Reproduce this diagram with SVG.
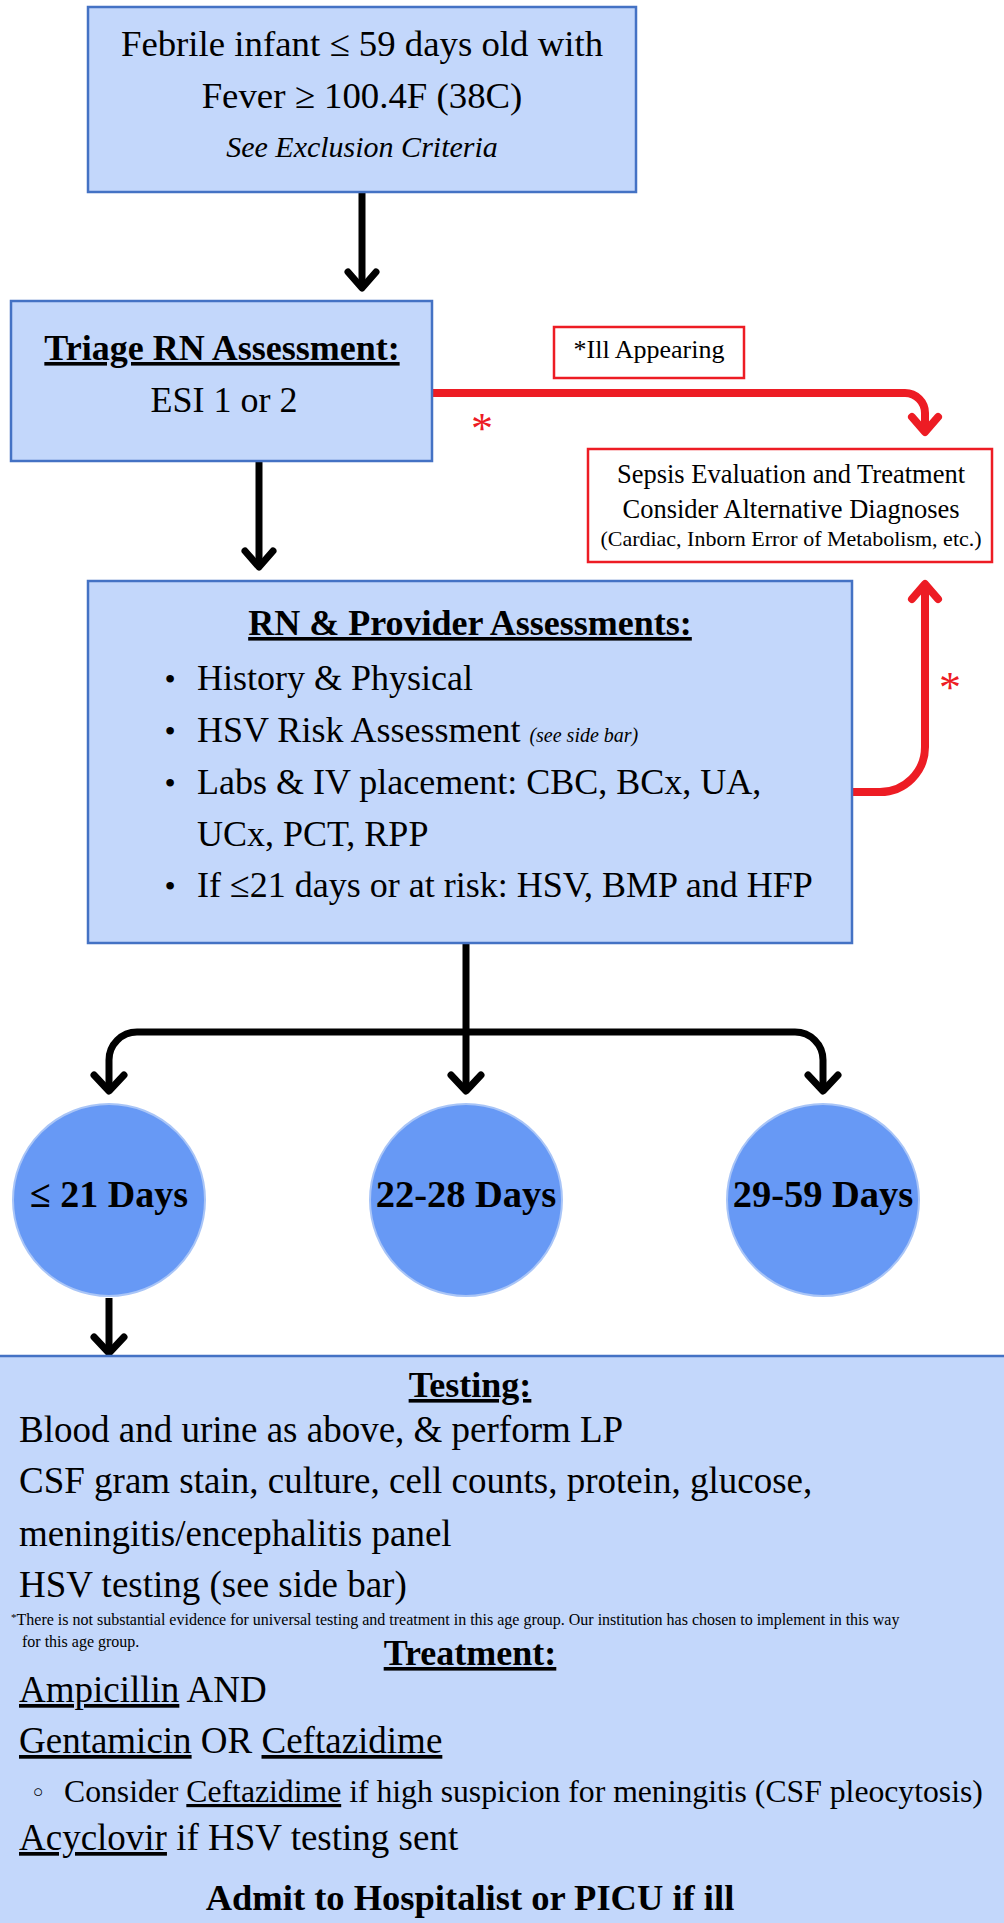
<svg xmlns="http://www.w3.org/2000/svg" width="1004" height="1923" viewBox="0 0 1004 1923">
<style>
.box{fill:#C3D7FB;stroke:#4472C4;stroke-width:2.5}
.rbox{fill:#FFFFFF;stroke:#ED1C24;stroke-width:2.5}
.circ{fill:#6799F5;stroke:#A9C5F7;stroke-width:2}
.t{font-family:"Liberation Serif","Times New Roman",serif;fill:#000}
.b{font-weight:bold}
.i{font-style:italic}
.u{text-decoration:underline}
.c{text-anchor:middle}
.blk{fill:none;stroke:#000;stroke-width:7}
.red{fill:none;stroke:#ED1C24;stroke-width:8}
.head{stroke-linecap:round;stroke-linejoin:round}
.ast{font-family:"Liberation Serif",serif;fill:#ED1C24;font-size:44px;text-anchor:middle}
</style>
<g id="connectors">
<path class="blk" d="M362,193 V287"/>
<polyline class="blk head" points="348,272 362,288 376,272"/>
<path class="blk" d="M259,462 V566"/>
<polyline class="blk head" points="245,551 259,567 273,551"/>
<path class="blk" d="M466,944 V1090"/>
<path class="blk" d="M109,1090 V1060 A28,28 0 0 1 137,1032 H795 A28,28 0 0 1 823,1060 V1090"/>
<polyline class="blk head" points="94,1075 109,1091 124,1075"/>
<polyline class="blk head" points="451,1075 466,1091 481,1075"/>
<polyline class="blk head" points="808,1075 823,1091 838,1075"/>
<path class="blk" d="M109,1298 V1352"/>
<polyline class="blk head" points="94,1337 109,1353 124,1337"/>
<path class="red" d="M433,393 H905 A20,20 0 0 1 925,413 V431"/>
<polyline class="red head" points="912,417 925,432 938,417"/>
<text class="ast" x="482" y="443">*</text>
<path class="red" d="M853,792 H880 A45,45 0 0 0 925,747 V585"/>
<polyline class="red head" points="912,599 925,584 938,599"/>
<text class="ast" x="950" y="702">*</text>
</g>
<g id="n-febrile">
<rect class="box" x="88" y="7" width="548" height="185"/>
<text class="t c" x="362" y="56" font-size="36.8">Febrile infant ≤ 59 days old with</text>
<text class="t c" x="362" y="108" font-size="36.8">Fever ≥ 100.4F (38C)</text>
<text class="t c i" x="362" y="157" font-size="30">See Exclusion Criteria</text>
</g>
<g id="n-triage">
<rect class="box" x="11" y="301" width="421" height="160"/>
<text class="t c b u" x="222" y="360" font-size="36">Triage RN Assessment:</text>
<text class="t c" x="224" y="412" font-size="36">ESI 1 or 2</text>
</g>
<g id="n-ill">
<rect class="rbox" x="554" y="327" width="190" height="51"/>
<text class="t c" x="649" y="358" font-size="26">*Ill Appearing</text>
</g>
<g id="n-sepsis">
<rect class="rbox" x="588" y="449" width="404" height="113"/>
<text class="t c" x="791" y="483" font-size="26.5">Sepsis Evaluation and Treatment</text>
<text class="t c" x="791" y="518" font-size="26.5">Consider Alternative Diagnoses</text>
<text class="t c" x="791" y="546" font-size="22">(Cardiac, Inborn Error of Metabolism, etc.)</text>
</g>
<g id="n-assess">
<rect class="box" x="88" y="581" width="764" height="362"/>
<text class="t c b u" x="470" y="635" font-size="36">RN &amp; Provider Assessments:</text>
<text class="t c" x="170" y="690" font-size="32">•</text>
<text class="t" x="197" y="690" font-size="36">History &amp; Physical</text>
<text class="t c" x="170" y="742" font-size="32">•</text>
<text class="t" x="197" y="742" font-size="36">HSV Risk Assessment <tspan class="i" font-size="20">(see side bar)</tspan></text>
<text class="t c" x="170" y="794" font-size="32">•</text>
<text class="t" x="197" y="794" font-size="36">Labs &amp; IV placement: CBC, BCx, UA,</text>
<text class="t" x="197" y="846" font-size="36">UCx, PCT, RPP</text>
<text class="t c" x="170" y="897" font-size="32">•</text>
<text class="t" x="197" y="897" font-size="36">If ≤21 days or at risk: HSV, BMP and HFP</text>
</g>
<g id="n-le21">
<circle class="circ" cx="109" cy="1200" r="96"/>
<text class="t c b" x="109" y="1207" font-size="38">≤ 21 Days</text>
</g>
<g id="n-22-28">
<circle class="circ" cx="466" cy="1200" r="96"/>
<text class="t c b" x="466" y="1207" font-size="38.5">22-28 Days</text>
</g>
<g id="n-29-59">
<circle class="circ" cx="823" cy="1200" r="96"/>
<text class="t c b" x="823" y="1207" font-size="38.5">29-59 Days</text>
</g>
<g id="n-testing">
<rect class="box" x="-3" y="1356" width="1010" height="580"/>
<text class="t c b u" x="470" y="1397" font-size="36">Testing:</text>
<text class="t" x="19" y="1442" font-size="37">Blood and urine as above, &amp; perform LP</text>
<text class="t" x="19" y="1493" font-size="37">CSF gram stain, culture, cell counts, protein, glucose,</text>
<text class="t" x="19" y="1546" font-size="37">meningitis/encephalitis panel</text>
<text class="t" x="19" y="1597" font-size="37">HSV testing (see side bar)</text>
<text class="t" x="11" y="1625" font-size="16" fill="#222"><tspan font-size="11" dy="-4">*</tspan><tspan dy="4">There is not substantial evidence for universal testing and treatment in this age group. Our institution has chosen to implement in this way</tspan></text>
<text class="t" x="22" y="1647" font-size="16" fill="#222">for this age group.</text>
<text class="t c b u" x="470" y="1665" font-size="36">Treatment:</text>
<text class="t" x="19" y="1702" font-size="37"><tspan class="u">Ampicillin</tspan> AND</text>
<text class="t" x="19" y="1753" font-size="37"><tspan class="u">Gentamicin</tspan> OR <tspan class="u">Ceftazidime</tspan></text>
<text x="38" y="1802" font-size="26" text-anchor="middle" font-family="DejaVu Sans,sans-serif">◦</text>
<text class="t" x="64" y="1802" font-size="31.7">Consider <tspan class="u">Ceftazidime</tspan> if high suspicion for meningitis (CSF pleocytosis)</text>
<text class="t" x="19" y="1850" font-size="37"><tspan class="u">Acyclovir</tspan> if HSV testing sent</text>
<text class="t c b" x="470" y="1910" font-size="36.5">Admit to Hospitalist or PICU if ill</text>
</g>
</svg>
